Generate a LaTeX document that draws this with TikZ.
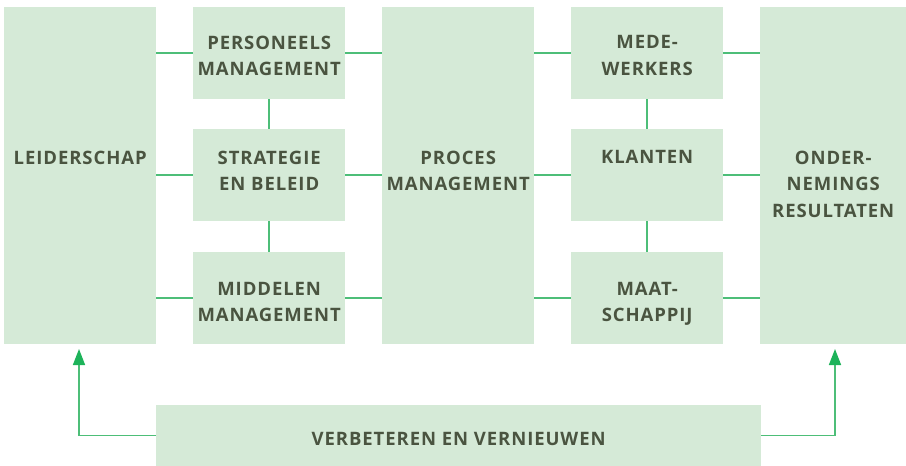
\documentclass[tikz,border=0pt]{standalone}
\usepackage{fontspec}
\setmainfont{Open Sans}[LetterSpace=5]
\usetikzlibrary{arrows.meta}
\definecolor{boxfill}{HTML}{D5EAD7}
\definecolor{linegreen}{HTML}{4DBE78}
\definecolor{tipgreen}{HTML}{1DB35A}
\definecolor{txt}{HTML}{4A5440}
\begin{document}
\begin{tikzpicture}[x=1pt,y=-1pt,
  box/.style={fill=boxfill,draw=none,anchor=north west,inner sep=0pt},
  lbl/.style={anchor=north,inner sep=0pt,align=center,text=txt,font=\bfseries\fontsize{18.5}{26.5}\selectfont},
  conn/.style={draw=linegreen,line width=1.5pt},
  arr/.style={conn,-{Triangle[length=16pt,width=12pt,color=tipgreen,fill=tipgreen]}}]
\useasboundingbox (0,0) rectangle (906,466);
\node[box,minimum width=152pt,minimum height=337pt] (lead) at (4,7) {};
\node[box,minimum width=152pt,minimum height=92pt] (pers) at (193,7) {};
\node[box,minimum width=152pt,minimum height=92pt] (strat) at (193,129) {};
\node[box,minimum width=152pt,minimum height=92pt] (midd) at (193,252) {};
\node[box,minimum width=152pt,minimum height=337pt] (proc) at (382,7) {};
\node[box,minimum width=152pt,minimum height=92pt] (mede) at (571,7) {};
\node[box,minimum width=152pt,minimum height=92pt] (klant) at (571,129) {};
\node[box,minimum width=152pt,minimum height=92pt] (maat) at (571,252) {};
\node[box,minimum width=146pt,minimum height=337pt] (ond) at (760,7) {};
\node[box,minimum width=605pt,minimum height=61pt] (verb) at (156,405) {};
% labels
\node[lbl] (leadt) at (lead.center |- 0,150.5) {LEIDERSCHAP};
\node[lbl] (perst) at (pers.center |- 0,35.5) {PERSONEELS\\MANAGEMENT};
\node[lbl] (stratt) at (strat.center |- 0,150.5) {STRATEGIE\\EN BELEID};
\node[lbl] (middt) at (midd.center |- 0,282) {MIDDELEN\\MANAGEMENT};
\node[lbl] (proct) at (proc.center |- 0,150.5) {PROCES\\MANAGEMENT};
\node[lbl] (medet) at (mede.center |- 0,35.5) {MEDE-\\WERKERS};
\node[lbl] (klantt) at (klant.center |- 0,150.5) {KLANTEN};
\node[lbl] (maatt) at (maat.center |- 0,282) {MAAT-\\SCHAPPIJ};
\node[lbl] (ondt) at (ond.center |- 0,150.5) {ONDER-\\NEMINGS\\RESULTATEN};
\node[lbl] (verbt) at (verb.center |- 0,432.3) {VERBETEREN EN VERNIEUWEN};
% connectors
\foreach \a/\b in {pers/proc,strat/proc,midd/proc,mede/ond,klant/ond,maat/ond}{
  \draw[conn] (\a.east) -- (\a.east -| \b.west);
}
\foreach \a/\b in {pers/lead,strat/lead,midd/lead,mede/proc,klant/proc,maat/proc}{
  \draw[conn] (\a.west -| \b.east) -- (\a.west);
}
\draw[conn] (pers.south) -- (strat.north);
\draw[conn] (strat.south) -- (midd.north);
\draw[conn] (mede.south) -- (klant.north);
\draw[conn] (klant.south) -- (maat.north);
\coordinate (la) at (79,349);
\coordinate (ra) at (835,349);
\draw[arr] (verb.west) -| (la);
\draw[arr] (verb.east) -| (ra);
\end{tikzpicture}
\end{document}
